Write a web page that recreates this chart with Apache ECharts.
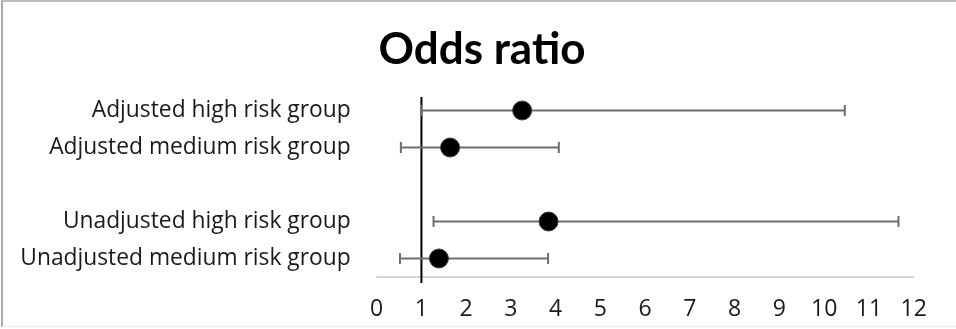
<!DOCTYPE html>
<html>
<head>
<meta charset="utf-8">
<script src="https://cdn.jsdelivr.net/npm/echarts@6/dist/echarts.min.js"></script>
<style>
  html, body { margin: 0; padding: 0; background: #fff; }
  #frame {
    position: absolute; left: 1px; top: 0; width: 955px; height: 327px;
    border-left: 2px solid #a9a9a9; border-top: 2px solid #bdbdbd;
    border-bottom: 1px solid #ededed; box-sizing: border-box;
  }
  #chart { position: absolute; left: 0; top: 0; width: 956px; height: 329px; }
</style>
</head>
<body>
<div id="frame"></div>
<div id="chart"></div>
<script>
// Forest plot of odds ratios with 95% confidence intervals
const groups = [
  'Adjusted high risk group',
  'Adjusted medium risk group',
  '',
  'Unadjusted high risk group',
  'Unadjusted medium risk group'
];
const oddsRatio = [3.25, 1.64, null, 3.84, 1.39];
const ciLower   = [1.00, 0.54, null, 1.27, 0.52];
const ciUpper   = [10.46, 4.07, null, 11.66, 3.83];
const xTicks    = [0, 1, 2, 3, 4, 5, 6, 7, 8, 9, 10, 11, 12];
const referenceOR = [1];

const TITLE_FONT = 'Lato';
const FONT = 'Open Sans';
const chart = echarts.init(document.getElementById('chart'), null, { renderer: 'canvas' });

const ciData = [];
const pointData = [];
groups.forEach((g, i) => {
  if (oddsRatio[i] == null) return;
  ciData.push([ciLower[i], ciUpper[i], i]);
  pointData.push([oddsRatio[i], i]);
});

chart.setOption({
  animation: false,
  title: {
    text: 'Odds ratio',
    left: 477, top: 23, textAlign: 'center',
    textStyle: { fontFamily: TITLE_FONT, fontWeight: 'bold', fontSize: 44, color: '#000' }
  },
  grid: { left: 376.7, right: 42.3, top: 92, height: 185, containLabel: false },
  xAxis: {
    type: 'value',
    min: xTicks[0], max: xTicks[xTicks.length - 1], interval: 1,
    axisLine: { show: true, onZero: false, lineStyle: { color: '#c8c8c8', width: 1.5 } },
    axisTick: { show: false },
    splitLine: { show: false },
    axisLabel: {
      margin: 21, fontFamily: FONT, fontSize: 23, color: '#1a1a1a',
      formatter: v => xTicks.includes(v) ? String(v) : ''
    }
  },
  yAxis: {
    type: 'category', data: groups, inverse: true,
    axisLine: { show: false }, axisTick: { show: false }, splitLine: { show: false },
    axisLabel: { margin: 26, fontFamily: FONT, fontSize: 22.8, color: '#1a1a1a', padding: [3, 0, 0, 0] }
  },
  series: [
    {
      // reference line at OR = 1
      type: 'custom',
      data: referenceOR.map(v => [v]),
      renderItem: (params, api) => {
        const x = api.coord([api.value(0), 0])[0];
        const top = params.coordSys.y + 5;
        const bottom = params.coordSys.y + params.coordSys.height + 6;
        return {
          type: 'line',
          shape: { x1: x, y1: top, x2: x, y2: bottom },
          style: { stroke: '#000', lineWidth: 2 }
        };
      },
      z: 1
    },
    {
      // confidence interval whiskers
      type: 'custom',
      data: ciData,
      encode: { x: [0, 1], y: 2 },
      renderItem: (params, api) => {
        const lo = api.coord([api.value(0), api.value(2)]);
        const hi = api.coord([api.value(1), api.value(2)]);
        const cap = 5.5;
        const style = { stroke: '#6e6e6e', lineWidth: 2 };
        return {
          type: 'group',
          children: [
            { type: 'line', shape: { x1: lo[0], y1: lo[1], x2: hi[0], y2: hi[1] }, style },
            { type: 'line', shape: { x1: lo[0], y1: lo[1] - cap, x2: lo[0], y2: lo[1] + cap }, style },
            { type: 'line', shape: { x1: hi[0], y1: hi[1] - cap, x2: hi[0], y2: hi[1] + cap }, style }
          ]
        };
      },
      z: 2
    },
    {
      type: 'scatter',
      data: pointData,
      symbol: 'circle',
      symbolSize: 19,
      itemStyle: { color: '#000', borderColor: '#3a3a3a', borderWidth: 1, opacity: 1 },
      z: 3
    }
  ]
});
</script>
</body>
</html>
